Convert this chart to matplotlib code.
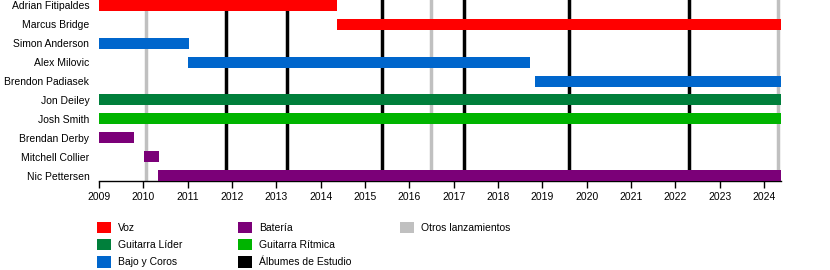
import matplotlib
matplotlib.use('Agg')
import matplotlib.pyplot as plt
from matplotlib.patches import Patch

plt.rcParams['font.family'] = ['Liberation Sans', 'DejaVu Sans']

# members, top to bottom
members = ['Adrian Fitipaldes', 'Marcus Bridge', 'Simon Anderson', 'Alex Milovic',
           'Brendon Padiasek', 'Jon Deiley', 'Josh Smith', 'Brendan Derby',
           'Mitchell Collier', 'Nic Pettersen']
starts = [2009.0, 2014.37, 2009.0, 2011.0, 2018.83, 2009.0, 2009.0, 2009.0, 2010.02, 2010.33]
ends = [2014.37, 2024.38, 2011.03, 2018.72, 2024.38, 2024.38, 2024.38, 2009.79, 2010.35, 2024.38]
roles = ['Voz', 'Voz', 'Bajo y Coros', 'Bajo y Coros', 'Bajo y Coros', 'Guitarra Líder',
         'Guitarra Rítmica', 'Batería', 'Batería', 'Batería']

studio_albums = [2011.86, 2013.24, 2015.38, 2017.23, 2019.60, 2022.31]
other_releases = [2010.06, 2016.49, 2024.32]

role_colors = {
    'Voz': '#ff0000',
    'Guitarra Líder': '#007f3b',
    'Bajo y Coros': '#0066cc',
    'Batería': '#7b0078',
    'Guitarra Rítmica': '#00b400',
    'Álbumes de Estudio': 'black',
    'Otros lanzamientos': '#c0c0c0',
}
legend_cols = [['Voz', 'Guitarra Líder', 'Bajo y Coros'],
               ['Batería', 'Guitarra Rítmica', 'Álbumes de Estudio'],
               ['Otros lanzamientos']]
legend_x = [97, 238, 400]

fig = plt.figure(figsize=(8.3, 2.7), dpi=100)
ax = fig.add_axes([99 / 830, 1 - 181 / 270, 682 / 830, 181 / 270])

bh = 0.58
for i, (s, e, r) in enumerate(zip(starts, ends, roles)):
    ax.barh(i, e - s, left=s, height=bh, color=role_colors[r], zorder=3)

for x in other_releases:
    ax.axvline(x, color='#c0c0c0', lw=2.5, zorder=1)
for x in studio_albums:
    ax.axvline(x, color='black', lw=2.5, zorder=2)

ax.set_xlim(2009, 2024.38)
ax.set_ylim(9 + bh / 2, -bh / 2)
ax.set_yticks(range(len(members)))
ax.set_yticklabels(members, fontsize=7.5)
ax.tick_params(axis='y', length=0, pad=7)
ax.set_xticks(range(2009, 2025))
ax.tick_params(axis='x', labelsize=7.5, length=5, width=1, direction='out', pad=3)
for side in ['top', 'right', 'left']:
    ax.spines[side].set_visible(False)
ax.spines['bottom'].set_linewidth(1)

for col, lx in zip(legend_cols, legend_x):
    handles = [Patch(facecolor=role_colors[n], edgecolor='none') for n in col]
    leg = fig.legend(handles, col, loc='upper left', bbox_to_anchor=(lx / 830, 1 - 222 / 270),
                     frameon=False, fontsize=7.5, handlelength=1.3, handleheight=1.3,
                     handletextpad=0.75, labelspacing=0.55, borderpad=0, borderaxespad=0)

fig.savefig('out.png', dpi=100)
